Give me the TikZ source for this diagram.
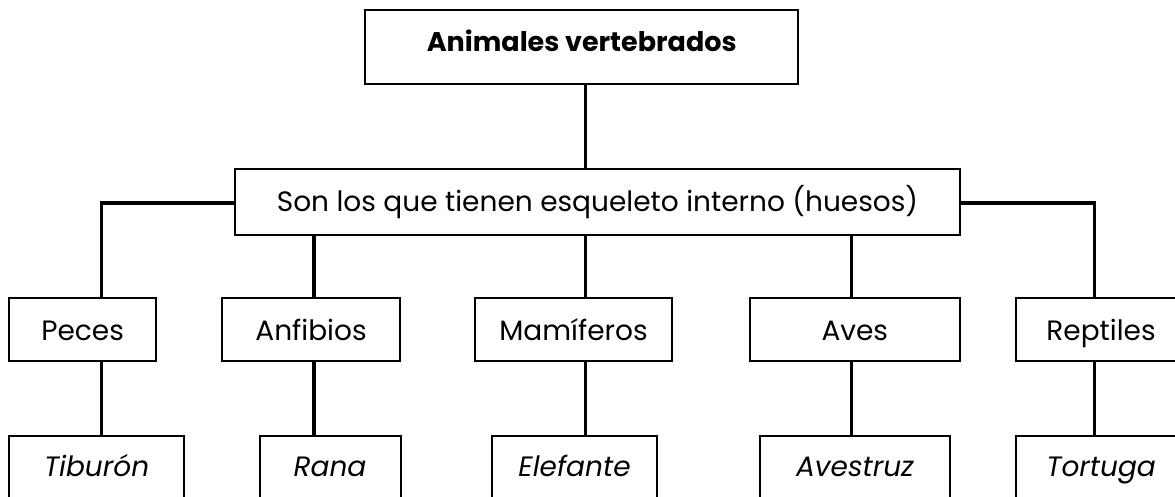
\documentclass[tikz,border=0pt]{standalone}
\usepackage{fontspec}
\setmainfont{Poppins}
\begin{document}
\begin{tikzpicture}[x=1pt,y=-1pt,
  box/.style={draw, line width=2pt, inner xsep=0pt, inner ysep=0pt, anchor=north,
    font=\fontsize{28}{30}\selectfont},
  rowtwo/.style={box, text height=42pt, text depth=21pt},
  rowthree/.style={box, text height=40pt, text depth=40pt, font=\fontsize{28}{30}\selectfont\itshape},
  openbox/.style={anchor=north west, inner xsep=30pt, text width=200pt, align=left},
  conn/.style={line width=3.5pt}]
\useasboundingbox (0,0) rectangle (1175,496);
\clip (0,0) rectangle (1175,496);
% top
\node[box, minimum width=433pt, text height=41pt, text depth=33pt,
  font=\fontsize{27}{30}\selectfont\bfseries] (top) at (581.7,9) {Animales vertebrados};
\node[box, minimum width=725pt, text height=42pt, text depth=24pt] (mid) at (597.5,168)
  {Son los que tienen esqueleto interno (huesos)};
% row two
\node[rowtwo, minimum width=147pt] (peces) at (82.6,297) {Peces};
\node[rowtwo, minimum width=178pt] (anfibios) at (311,297) {Anfibios};
\node[rowtwo, minimum width=197pt] (mamiferos) at (573.5,297) {Mamíferos};
\node[rowtwo, minimum width=210pt] (aves) at (854.8,297) {Aves};
\node[rowtwo, openbox] (reptiles) at (1015.4,297) {Reptiles};
% row three
\node[rowthree, minimum width=175pt] (tiburon) at (96.6,435) {Tiburón};
\node[rowthree, minimum width=141pt] (rana) at (330,435) {Rana};
\node[rowthree, minimum width=165pt] (elefante) at (574.5,435) {Elefante};
\node[rowthree, minimum width=190pt] (avestruz) at (855,435) {Avestruz};
\node[rowthree, openbox] (tortuga) at (1015.4,435) {Tortuga};
% junction coordinates
\coordinate (jl) at (101.4,203);
\coordinate (jr) at (1094.3,203);
\coordinate (xa) at (313.8,0);
\coordinate (xm) at (585.5,0);
\coordinate (xv) at (851.7,0);
% connectors
\draw[conn] (top.south -| xm) -- (mid.north -| xm);
\draw[conn] (mid.west |- jl) -| (peces.north -| jl);
\draw[conn] (mid.east |- jr) -| (reptiles.north -| jr);
\draw[conn] (mid.south -| xa) -- (anfibios.north -| xa);
\draw[conn] (mid.south -| xm) -- (mamiferos.north -| xm);
\draw[conn] (mid.south -| xv) -- (aves.north -| xv);
\draw[conn] (peces.south -| jl) -- (tiburon.north -| jl);
\draw[conn] (anfibios.south -| xa) -- (rana.north -| xa);
\draw[conn] (mamiferos.south -| xm) -- (elefante.north -| xm);
\draw[conn] (aves.south -| xv) -- (avestruz.north -| xv);
\draw[conn] (reptiles.south -| jr) -- (tortuga.north -| jr);
\end{tikzpicture}
\end{document}
